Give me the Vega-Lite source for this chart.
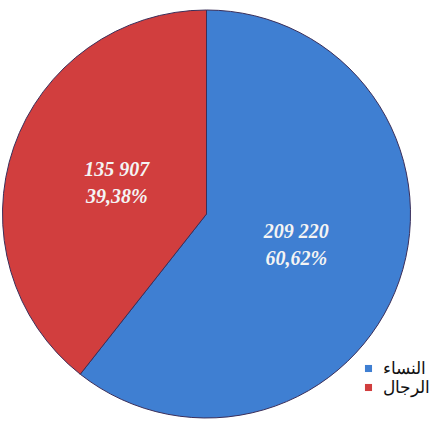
{
  "$schema": "https://vega.github.io/schema/vega-lite/v6.json",
  "autosize": "none",
  "width": 393,
  "height": 424,
  "padding": {"left": 10, "top": 2, "right": 38, "bottom": 2},
  "background": "white",
  "view": {"stroke": null},
  "data": {"values": [
    {"sex": "النساء", "value": 209220, "valueLabel": "209 220", "pctLabel": "60,62%"},
    {"sex": "الرجال", "value": 135907, "valueLabel": "135 907", "pctLabel": "39,38%"}
  ]},
  "encoding": {
    "theta": {"field": "value", "type": "quantitative", "stack": true},
    "order": {"field": "value", "type": "quantitative", "sort": "descending"}
  },
  "layer": [
    {
      "mark": {"type": "arc", "outerRadius": 204, "stroke": "#3b2f5a", "strokeWidth": 1},
      "encoding": {
        "color": {
          "field": "sex", "type": "nominal",
          "scale": {"domain": ["النساء", "الرجال"], "range": ["#3f7fd2", "#d13e3e"]},
          "legend": {
            "title": null, "orient": "none", "legendX": 350, "legendY": 358,
            "symbolType": "square", "symbolSize": 50, "symbolStrokeWidth": 0,
            "labelFont": "Liberation Sans", "labelFontSize": 17, "labelColor": "#111",
            "rowPadding": 1, "labelOffset": 6
          }
        }
      }
    },
    {
      "mark": {"type": "text", "radius": 95, "dy": -13, "font": "Liberation Serif", "fontSize": 20, "fontWeight": "bold", "fontStyle": "italic", "fill": "#f4f4f4"},
      "encoding": {"text": {"field": "valueLabel"}}
    },
    {
      "mark": {"type": "text", "radius": 95, "dy": 14, "font": "Liberation Serif", "fontSize": 20, "fontWeight": "bold", "fontStyle": "italic", "fill": "#f4f4f4"},
      "encoding": {"text": {"field": "pctLabel"}}
    }
  ]
}
